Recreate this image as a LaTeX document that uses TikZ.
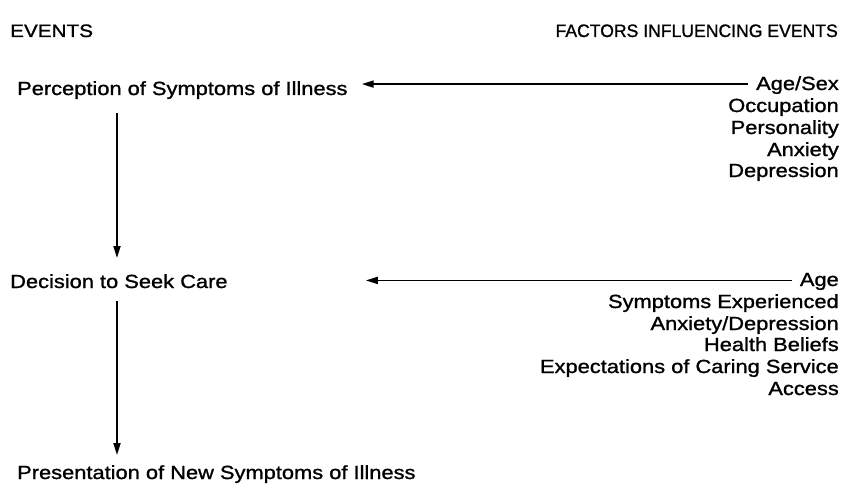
\documentclass[tikz,border=0pt]{standalone}
\usepackage{fontspec}
\setmainfont{Liberation Sans}[FakeStretch=1.15, FakeBold=1.2]
\usepackage{tikz}
\usetikzlibrary{arrows.meta}
\usetikzlibrary{positioning,calc}
\tikzset{
    event/.style={
        anchor=base west,
        inner sep=0pt,
        font=\fontsize{19}{22}\selectfont
    },
    factor/.style={
        anchor=base east,
        inner sep=0pt,
        font=\fontsize{19}{22}\selectfont
    },
    heading/.style={
        inner sep=0pt,
        font=\fontsize{18}{22}\selectfont
    },
    flow/.style={
        draw,
        -{Triangle[length=12pt, width=7pt]},
        line width=1.8pt
    }
}

\begin{document}
\begin{tikzpicture}[x=1pt, y=-1pt]
    \useasboundingbox (0,0) rectangle (847,487);

    % Headings
    \node[heading, anchor=base west] (hevents) at (10,37) {EVENTS};
    \node[heading, anchor=base east] (hfactors) at (838,37) {\scalebox{0.85}[1]{FACTORS INFLUENCING EVENTS}};

    % Events
    \node[event] (percept) at (17,95) {Perception of Symptoms of Illness};
    \node[event] (decide) at (10,288) {Decision to Seek Care};
    \node[event] (present) at (17,479) {Presentation of New Symptoms of Illness};

    % Factors - perception
    \node[factor] (fa1) at (839,90) {Age/Sex};
    \node[factor] (fa2) at (839,112) {Occupation};
    \node[factor] (fa3) at (839,134) {Personality};
    \node[factor] (fa4) at (839,156) {Anxiety};
    \node[factor] (fa5) at (839,177) {Depression};

    % Factors - decision
    \node[factor] (fb1) at (839,286) {Age};
    \node[factor] (fb2) at (839,308) {Symptoms Experienced};
    \node[factor] (fb3) at (839,330) {Anxiety/Depression};
    \node[factor] (fb4) at (839,351) {Health Beliefs};
    \node[factor] (fb5) at (839,373) {Expectations of Caring Service};
    \node[factor] (fb6) at (839,395) {Access};

    % Edges
    \coordinate (spine) at (117,0);
    \draw[flow] ([xshift=-8pt, yshift=1pt]fa1.west) -- ([xshift=14pt, yshift=1pt]fa1.west -| percept.east);
    \draw[flow] ([xshift=-8pt, yshift=1pt]fb1.west) -- ([xshift=138pt, yshift=1pt]fb1.west -| decide.east);
    \draw[flow] ([yshift=-14pt]spine |- percept.south) -- ([yshift=16pt]spine |- decide.north);
    \draw[flow] ([yshift=-13pt]spine |- decide.south) -- ([yshift=10pt]spine |- present.north);
\end{tikzpicture}
\end{document}
